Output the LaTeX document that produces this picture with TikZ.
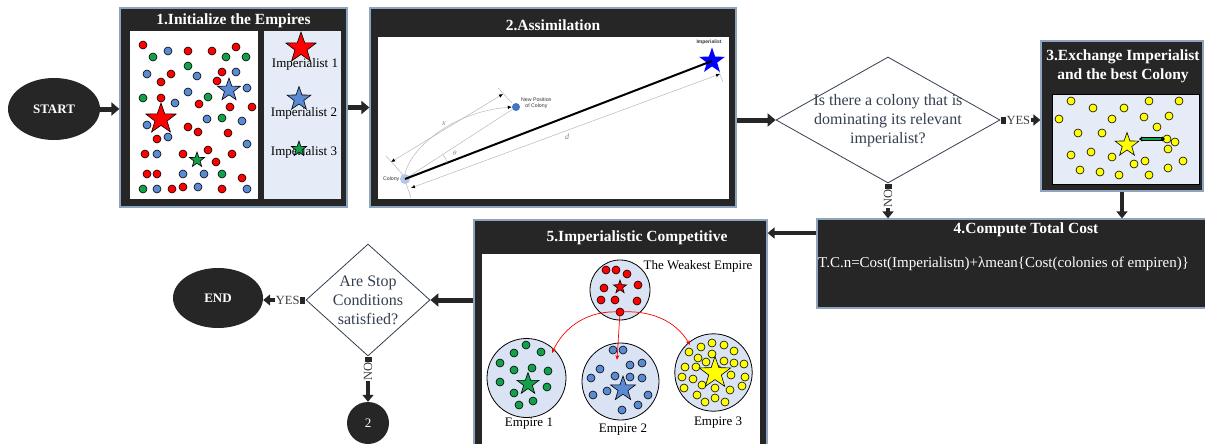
\documentclass[tikz,border=0pt]{standalone}
\usepackage{fontspec}
\setmainfont{Liberation Serif}
\newfontfamily\arialf{Liberation Sans}
\usetikzlibrary{shapes.geometric,arrows.meta,calc}
\definecolor{darkfill}{HTML}{262626}
\definecolor{boxedge}{HTML}{8FA5BF}
\definecolor{panel}{HTML}{E6ECF7}
\definecolor{empfill}{HTML}{DAE3F3}
\definecolor{cred}{HTML}{FF0000}
\definecolor{cblue}{HTML}{5A8AD2}
\definecolor{cgreen}{HTML}{12A04A}
\definecolor{cyel}{HTML}{FFFF00}
\definecolor{slate}{HTML}{333F50}
\definecolor{lbl}{HTML}{3A3A3A}
\definecolor{colonyc}{HTML}{B4C7E7}
\definecolor{newpos}{HTML}{4472C4}
\begin{document}
\begin{tikzpicture}[x=1pt,y=-1pt,
  darkbox/.style={rectangle, draw=boxedge, line width=1.2pt, fill=darkfill, inner sep=0pt},
  ttl/.style={text=white, font=\bfseries\fontsize{15.5}{18}\selectfont, align=center, inner sep=0pt},
  body/.style={text=black, font=\fontsize{13}{15}\selectfont, inner sep=0pt},
  dotc/.style={draw=black, line width=0.6pt},
  starnode/.style={star, star points=5, star point ratio=2.5, draw=black, line width=0.6pt, inner sep=0pt},
  bigarrow/.style={line width=5pt, draw=darkfill, -{Triangle[length=8pt,width=13pt]}},
  midarrow/.style={line width=4pt, draw=darkfill, -{Triangle[length=7pt,width=11pt]}},
  sqh/.style={fill=darkfill, minimum width=5pt, minimum height=7pt, inner sep=0pt},
  sqv/.style={fill=darkfill, minimum width=7pt, minimum height=5pt, inner sep=0pt},
  yn/.style={text=lbl, font=\fontsize{12.5}{14}\selectfont, inner sep=0.5pt},
  dimline/.style={draw=gray!55, line width=0.5pt},
  dimtip/.style={{Latex[length=4pt,width=3.5pt,black]}-{Latex[length=4pt,width=3.5pt,black]}},
  tiny/.style={font=\arialf\fontsize{5.2}{6}\selectfont, text=black!80, inner sep=0pt},
  redarr/.style={draw=cred, line width=0.7pt, -{Stealth[length=5pt,width=4pt]}}
]
\useasboundingbox (0,0) rectangle (1205,444);

% ---------- START ----------
\node[ellipse, fill=darkfill, minimum width=92pt, minimum height=62pt, text=white,
      font=\bfseries\fontsize{13}{15}\selectfont] (start) at (54,109) {START};

% ---------- Box 1 ----------
\node[darkbox, minimum width=227pt, minimum height=199pt] (b1) at (233.5,107.5) {};
\node[ttl] (t1) at (233.5,21) {1.Initialize the Empires};
\fill[white] (130,31) rectangle (258,199);
\fill[panel] (264,31) rectangle (341,199);
\foreach \x/\y in {143/45,188/51,212/51,236/47,171/74,161/82,222/72,217/81,161/98,199/104,230/107,252/107,188/127,198/132,228/133,157/139,145/154,183/154,208/150,216/162,232/154,147/174,157/174,242/178,172/189,183/187,222/189}
  \filldraw[dotc, fill=cred] (\x,\y) circle (4);
\foreach \x/\y in {168/51,147/74,197/76,236/72,188/92,247/88,175/103,207/119,242/121,147/125,168/137,247/144,157/154,183/174,204/174,157/189,198/187,247/189}
  \filldraw[dotc, fill=cblue] (\x,\y) circle (4);
\foreach \x/\y in {153/57,188/66,226/57,246/57,143/98,208/97,222/118,222/174,143/189}
  \filldraw[dotc, fill=cgreen] (\x,\y) circle (4);
\node[starnode, fill=cred, minimum size=32pt] (bs1) at (161,119) {};
\node[starnode, fill=cblue, minimum size=24pt] (bs2) at (229,90) {};
\node[starnode, fill=cgreen, minimum size=16pt] (bs3) at (197,160) {};
\node[body] (i1) at (305,64) {Imperialist 1};
\node[body] (i2) at (304,113) {Imperialist 2};
\node[body] (i3) at (304,152) {Imperialist 3};
\node[starnode, fill=cred, minimum size=32pt] (rs1) at (301,48) {};
\node[starnode, fill=cblue, minimum size=25pt] (rs2) at (299,99) {};
\node[starnode, fill=cgreen, minimum size=16pt] (rs3) at (299,149) {};

% ---------- Box 2 ----------
\node[darkbox, minimum width=366pt, minimum height=199pt] (b2) at (553,107.5) {};
\node[ttl] (t2) at (553,25) {2.Assimilation};
\fill[white] (378,37) rectangle (729,199);
% dimension lines
\draw[dimline, dimtip] (391,162) -- (503,94);
\draw[dimline] (386,156) -- (404,176);
\draw[dimline] (498,88) -- (512,103);
\draw[dimline, dimtip] (411,188) -- (720,74);
\draw[dimline] (406,183) -- (411,198);
\draw[dimline] (716,64) -- (723,82);
\node[circle, fill=colonyc, minimum size=10pt, inner sep=0pt] (col) at (405,179) {};
\node[circle, fill=newpos, minimum size=8pt, inner sep=0pt] (np) at (516,107) {};
\node[starnode, draw=none, fill=blue, minimum size=27pt] (imp) at (712,61) {};
\draw[dimline] (col.center) -- (np);
\draw[dimline, -{Latex[length=4pt,width=3.5pt,black]}] (col.north) .. controls (410,150) and (450,112) .. (np.west);
\draw[black, line width=2pt] (col.center) -- (imp.center);
\draw[dimline] (442.7,154.5) to[bend left=15] (447,162.9);
\node[tiny, anchor=east] (coll) at (399.5,179) {Colony};
\node[tiny, anchor=west, align=center] (npl) at (521,103) {New Position\\of Colony};
\node[tiny, font=\arialf\bfseries\fontsize{5}{6}\selectfont] (impl) at (709,42) {Imperialist};
\node[text=gray, font=\itshape\fontsize{8}{9}\selectfont, inner sep=0pt] (xl) at (444,124) {x};
\node[text=gray, font=\fontsize{7}{8}\selectfont, inner sep=0pt] (thl) at (455,153) {$\theta$};
\node[text=gray, font=\itshape\fontsize{8}{9}\selectfont, inner sep=0pt] (dl) at (567,137) {d};

% ---------- Diamond 1 ----------
\node[diamond, draw=slate, line width=0.8pt, fill=white, minimum width=224pt, minimum height=126pt, inner sep=0pt] (d1) at (888,120) {};
\node[text=slate, align=center, font=\fontsize{16}{19}\selectfont, inner sep=0pt] (d1t) at (888,121) {Is there a colony that is\\dominating its relevant\\imperialist?};

% ---------- Box 3 ----------
\node[darkbox, minimum width=162pt, minimum height=150pt] (b3) at (1122,116) {};
\node[ttl, font=\bfseries\fontsize{15.5}{19}\selectfont] (t3) at (1123,66) {3.Exchange Imperialist\\and the best Colony};
\filldraw[fill=panel, draw=black, line width=0.8pt] (1052,94) rectangle (1199,184);
\foreach \x/\y in {1071/101,1093/108,1124/108,1149/101,1179/101,1059/119,1112/119,1144/117,1169/116,1157/127,1078/133,1102/133,1167/139,1175/142,1168/149,1071/155,1091/152,1112/157,1145/161,1134/164,1183/161,1080/170,1100/172,1119/175,1149/175,1168/168}
  \filldraw[dotc, fill=cyel] (\x,\y) circle (4);
\node[starnode, fill=cyel, minimum size=25pt] (ys) at (1127,145) {};
\draw[black, line width=4pt, {Latex[length=3pt,width=6pt]}-{Latex[length=3pt,width=6pt]}] (1139,139) -- (1165,139);
\draw[cgreen, line width=2.2pt] (1142,139) -- (1161,139);

% ---------- Box 4 ----------
\node[darkbox, minimum width=390pt, minimum height=89pt] (b4) at (1012,263.5) {};
\node[ttl] (t4) at (1026,230) {4.Compute Total Cost};
\node[text=white, anchor=west, font=\fontsize{15}{18}\selectfont, inner sep=0pt] (f4) at (818,264) {T.C.n=Cost(Imperialistn)+λmean\{Cost(colonies of empiren)\}};

% ---------- Box 5 ----------
\node[darkbox, minimum width=293pt, minimum height=228pt] (b5) at (620.5,334) {};
\node[ttl] (t5) at (637,238) {5.Imperialistic Competitive};
\fill[white] (482,254) rectangle (760,448);
\filldraw[fill=empfill, draw=black, line width=0.8pt] (620,290) circle (30);
\filldraw[fill=empfill, draw=black, line width=0.8pt] (526.5,378) circle (39.5);
\filldraw[fill=empfill, draw=black, line width=0.8pt] (620.5,381.5) circle (38.5);
\filldraw[fill=empfill, draw=black, line width=0.8pt] (713.5,372.5) circle (38.7);
\foreach \x/\y in {606/270,616/270,627/274,604/288,638/285,601/300,615/300,637/301}
  \filldraw[dotc, fill=cred] (\x,\y) circle (4);
\node[circle, dotc, fill=cred, minimum size=8pt, inner sep=0pt] (rd) at (620,312) {};
\node[starnode, fill=cred, minimum size=14pt] (ws) at (620,287) {};
\foreach \x/\y in {526/345,514/353,541/352,500/363,514/370,532/368,548/371,500/382,547/387,514/393,533/401,519/405}
  \filldraw[dotc, fill=cgreen] (\x,\y) circle (4);
\node[starnode, fill=cgreen, minimum size=23pt] (e1s) at (528,384) {};
\foreach \x/\y in {613/350,623/350,600/369,630/365,642/363,615/376,630/377,591/378,642/378,607/391,593/395,648/395,638/405,622/410}
  \filldraw[dotc, fill=cblue] (\x,\y) circle (4);
\node[starnode, fill=cblue, minimum size=26pt] (e2s) at (623,389) {};
\foreach \x/\y in {689/352,701/347,712/343,724/345,734/351,698/358,712/354,724/361,734/363,744/364,685/367,696/367,706/362,717/369,731/375,745/377,682/377,693/379,742/386,684/388,702/385,715/388,730/390,697/395,705/402,715/398,725/402}
  \filldraw[dotc, fill=cyel] (\x,\y) circle (4);
\node[starnode, fill=cyel, minimum size=33pt] (e3s) at (715,373) {};
\coordinate (tg1) at (552,353);
\coordinate (tg2) at (617,360);
\coordinate (tg3) at (690,345);
\draw[redarr] (rd.center) .. controls (590,310) and (565,325) .. (tg1);
\draw[redarr] (rd.center) -- (tg2);
\draw[redarr] (rd.center) .. controls (650,310) and (675,320) .. (tg3);
\node[body] (wl) at (698,266) {The Weakest Empire};
\node[body] (e1l) at (529,424) {Empire 1};
\node[body] (e2l) at (623,430) {Empire 2};
\node[body] (e3l) at (718,423) {Empire 3};

% ---------- Diamond 2, END, 2 ----------
\node[diamond, draw=slate, line width=0.8pt, fill=white, minimum width=124pt, minimum height=112pt, inner sep=0pt] (d2) at (368,300) {};
\node[text=slate, align=center, font=\fontsize{16}{19}\selectfont, inner sep=0pt] (d2t) at (368,300) {Are Stop\\Conditions\\satisfied?};
\node[ellipse, fill=darkfill, minimum width=90pt, minimum height=60pt, text=white,
      font=\bfseries\fontsize{13}{15}\selectfont] (end) at (218,298) {END};
\node[circle, fill=darkfill, minimum size=42pt, text=white, font=\fontsize{13}{15}\selectfont] (c2) at (368,423) {2};

% ---------- connectors ----------
\draw[bigarrow] (start.east) -- (start.east -| b1.west);
\draw[bigarrow] (b1.east) -- (b2.west);
\draw[bigarrow] (d1.west -| b2.east) -- (d1.west);
% YES to box 3
\node[sqh, anchor=west] (ysq1) at (d1.east) {};
\node[yn, anchor=west] (yes1) at (ysq1.east) {YES};
\draw[midarrow] (yes1.east) -- (yes1.east -| b3.west);
% NO to box 4
\node[sqv, anchor=north] (nsq1) at (d1.south) {};
\node[yn, rotate=90, anchor=east] (no1) at (nsq1.south) {NO};
\draw[midarrow] (no1.west) -- (no1.west |- b4.north);
% box 3 to box 4
\draw[midarrow] (b3.south) -- (b3.south |- b4.north);
% box 4 to box 5
\coordinate (p45) at ([yshift=30.5pt]b4.west);
\draw[midarrow, line width=4.5pt] (p45) -- (p45 -| b5.east);
% box 5 to diamond 2
\draw[bigarrow] (d2.east -| b5.west) -- (d2.east);
% YES to END
\node[sqh, anchor=east] (ysq2) at (d2.west) {};
\node[yn, anchor=east] (yes2) at (ysq2.west) {YES};
\draw[midarrow] (yes2.west) -- (yes2.west -| end.east);
% NO to 2
\node[sqv, anchor=north] (nsq2) at (d2.south) {};
\node[yn, rotate=90, anchor=east] (no2) at (nsq2.south) {NO};
\draw[midarrow] (no2.west) -- (c2.north);
\end{tikzpicture}
\end{document}
